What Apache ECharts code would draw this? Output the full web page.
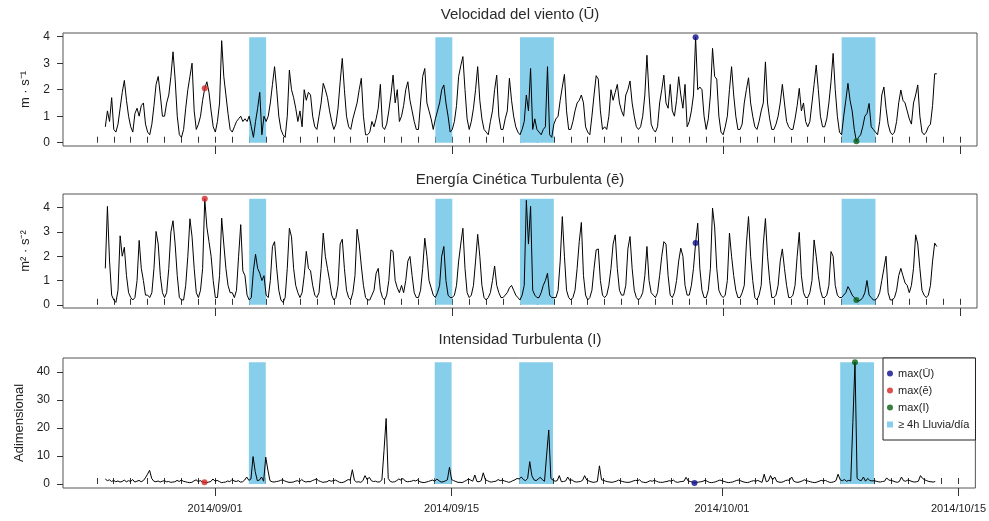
<!DOCTYPE html>
<html>
<head>
<meta charset="utf-8">
<script src="https://cdn.jsdelivr.net/npm/echarts@6/dist/echarts.min.js"></script>
<style>
  html, body { margin: 0; padding: 0; background: #fff; }
  #chart { width: 989px; height: 521px; }
</style>
</head>
<body>
<div id="chart"></div>
<script>
// Sampling: 3-hourly values, first sample 2014-08-25 12:00 (UTC)
const SERIES_START = Date.UTC(2014, 7, 25, 12);
const STEP_HOURS = 3;

// Mean wind speed (m/s); one row per day, slots 00,03,06,09,12,15,18,21 h
const windSpeed = [
  [0.6, 1.2, 0.8, 1.7],                              // 08-25 (from 12 h)
  [0.5, 0.4, 0.7, 1.3, 1.9, 2.35, 1.6, 1.0],         // 08-26
  [0.6, 0.4, 1.1, 1.3, 1.0, 1.4, 1.5, 0.7],          // 08-27
  [0.4, 0.3, 0.7, 1.4, 2.2, 2.5, 1.8, 1.0],          // 08-28
  [1.0, 1.5, 1.8, 2.5, 3.43, 2.4, 1.0, 0.3],         // 08-29
  [0.2, 0.5, 1.3, 2.0, 2.5, 3.0, 1.2, 0.5],          // 08-30
  [0.7, 1.0, 1.6, 2.05, 2.3, 1.9, 1.2, 0.6],         // 08-31
  [0.4, 0.8, 1.5, 3.85, 2.5, 1.8, 1.1, 0.5],         // 09-01
  [0.4, 0.6, 0.8, 0.9, 1.0, 0.8, 0.9, 0.8],          // 09-02
  [1.0, 0.6, 0.2, 0.8, 1.3, 1.9, 0.3, 1.0],          // 09-03
  [0.8, 1.0, 1.5, 2.2, 2.87, 2.0, 1.0, 0.5],         // 09-04
  [0.3, 0.2, 1.0, 2.74, 2.0, 1.7, 1.3, 0.8],         // 09-05
  [1.2, 0.6, 2.0, 1.6, 1.9, 1.8, 1.0, 0.6],          // 09-06
  [0.5, 1.0, 1.5, 2.24, 2.0, 1.7, 1.2, 0.8],         // 09-07
  [0.5, 0.7, 1.3, 2.3, 3.18, 2.0, 1.0, 0.6],         // 09-08
  [0.5, 0.9, 1.2, 1.5, 2.0, 2.43, 1.0, 0.3],         // 09-09
  [0.3, 0.4, 0.8, 0.6, 0.9, 1.3, 2.2, 0.6],          // 09-10
  [0.5, 0.7, 1.2, 1.8, 2.55, 1.5, 2.0, 0.8],         // 09-11
  [1.0, 1.4, 2.0, 2.3, 1.6, 1.2, 0.8, 0.5],          // 09-12
  [0.5, 1.5, 2.5, 2.8, 1.5, 1.2, 0.9, 0.5],          // 09-13
  [0.9, 1.2, 1.5, 2.0, 2.18, 1.5, 1.0, 0.4],         // 09-14
  [0.5, 0.8, 1.4, 2.5, 2.9, 3.25, 2.0, 0.9],         // 09-15
  [0.5, 0.8, 1.3, 2.0, 2.87, 1.6, 0.9, 0.5],         // 09-16
  [0.4, 0.3, 0.8, 1.2, 2.0, 2.55, 1.0, 0.5],         // 09-17
  [0.5, 0.9, 1.2, 2.43, 1.6, 1.0, 0.6, 0.4],         // 09-18
  [0.3, 0.5, 0.8, 1.8, 1.2, 2.8, 0.5, 0.9],          // 09-19
  [0.5, 0.4, 0.3, 0.5, 0.6, 2.87, 0.3, 0.2],         // 09-20
  [0.7, 0.9, 1.0, 1.6, 2.1, 2.58, 1.2, 0.5],         // 09-21
  [0.5, 0.8, 1.2, 1.5, 1.6, 1.8, 1.5, 0.6],          // 09-22
  [0.4, 0.3, 1.0, 1.8, 2.53, 2.4, 1.2, 0.5],         // 09-23
  [0.6, 0.5, 1.0, 2.0, 1.6, 1.9, 2.2, 1.5],          // 09-24
  [1.2, 1.0, 1.8, 2.0, 2.33, 1.5, 1.0, 0.6],         // 09-25
  [0.5, 0.6, 1.0, 1.8, 3.3, 1.8, 0.7, 0.5],          // 09-26
  [0.4, 0.6, 1.5, 2.0, 2.55, 1.5, 1.3, 2.2],         // 09-27
  [1.2, 1.0, 1.6, 2.49, 1.8, 1.3, 2.2, 0.6],         // 09-28
  [0.8, 1.2, 1.8, 3.98, 2.0, 2.1, 2.0, 1.0],         // 09-29
  [0.5, 0.9, 1.8, 3.56, 2.5, 2.4, 1.0, 0.4],         // 09-30
  [0.3, 0.6, 1.0, 2.0, 2.87, 1.8, 1.0, 0.5],         // 10-01
  [0.5, 0.7, 1.5, 2.0, 2.45, 1.5, 1.0, 0.6],         // 10-02
  [0.5, 0.8, 1.2, 1.5, 3.05, 1.5, 0.9, 0.5],         // 10-03
  [0.5, 0.7, 1.0, 1.5, 2.2, 1.5, 0.8, 0.6],          // 10-04
  [0.5, 0.5, 0.9, 1.4, 2.05, 1.2, 1.5, 0.8],         // 10-05
  [0.6, 0.8, 1.5, 2.2, 2.93, 2.0, 1.0, 0.6],         // 10-06
  [0.6, 0.9, 1.5, 2.3, 3.37, 2.0, 1.0, 0.4],         // 10-07
  [0.3, 1.0, 1.6, 2.24, 1.6, 1.2, 0.5, 0.05],        // 10-08
  [0.2, 0.3, 0.6, 1.0, 1.1, 1.48, 0.6, 0.5],         // 10-09
  [0.4, 0.3, 0.8, 1.8, 2.1, 1.3, 0.7, 0.4],          // 10-10
  [0.3, 0.4, 0.8, 1.5, 1.99, 1.6, 1.5, 1.2],         // 10-11
  [0.9, 0.7, 1.5, 1.8, 2.18, 1.0, 0.4, 0.3],         // 10-12
  [0.4, 0.6, 0.7, 1.4, 2.6, 2.6]                     // 10-13 (to 15 h)
];

// Turbulent kinetic energy (m2/s2), same sampling
const tke = [
  [1.5, 4.05, 1.8, 0.4],
  [0.2, 0.1, 0.6, 2.84, 2.0, 2.37, 1.2, 0.5],
  [0.3, 0.2, 0.3, 1.0, 2.65, 1.5, 1.0, 0.4],
  [0.4, 0.3, 0.5, 1.5, 3.02, 2.5, 1.2, 0.5],
  [0.3, 0.5, 1.5, 3.0, 3.46, 2.5, 1.2, 0.3],
  [0.2, 0.2, 0.8, 2.0, 3.54, 2.8, 1.5, 0.5],
  [0.3, 0.6, 1.5, 4.36, 3.2, 2.6, 2.0, 1.0],
  [0.3, 0.3, 1.2, 3.57, 2.5, 1.5, 0.8, 0.5],
  [0.5, 0.3, 0.6, 2.0, 3.3, 1.4, 1.2, 0.4],
  [0.2, 0.3, 1.4, 2.08, 1.5, 1.3, 1.0, 1.2],
  [0.4, 0.3, 1.0, 2.4, 2.6, 1.5, 0.6, 0.2],
  [0.1, 0.3, 1.5, 3.15, 2.8, 1.5, 0.8, 0.5],
  [0.3, 0.5, 1.2, 2.2, 1.5, 1.4, 0.8, 0.4],
  [0.3, 0.5, 1.5, 2.95, 2.0, 1.5, 1.0, 0.4],
  [0.2, 0.3, 0.8, 2.5, 2.7, 1.5, 0.6, 0.3],
  [0.2, 0.5, 1.2, 3.11, 2.5, 1.6, 0.8, 0.3],
  [0.2, 0.2, 0.4, 0.6, 1.3, 1.5, 0.6, 0.3],
  [0.2, 0.4, 1.0, 2.26, 2.2, 1.0, 0.7, 0.5],
  [0.8, 0.5, 1.0, 1.8, 1.99, 1.2, 0.5, 0.3],
  [0.3, 0.6, 1.5, 2.74, 2.0, 1.0, 0.7, 0.4],
  [0.3, 0.5, 0.8, 2.0, 2.4, 1.0, 0.4, 0.3],
  [0.3, 0.4, 0.8, 1.8, 2.5, 3.15, 1.5, 0.5],
  [0.3, 0.4, 0.8, 1.8, 2.9, 2.0, 0.8, 0.3],
  [0.2, 0.3, 0.5, 1.0, 1.6, 0.8, 0.5, 0.3],
  [0.3, 0.4, 0.5, 0.7, 0.8, 0.6, 0.4, 0.3],
  [0.2, 0.4, 0.8, 4.3, 2.5, 4.05, 0.6, 0.4],
  [0.3, 0.3, 0.5, 0.8, 1.0, 1.3, 0.4, 0.3],
  [0.3, 0.3, 0.6, 1.8, 3.63, 2.0, 0.6, 0.3],
  [0.2, 0.3, 0.6, 1.5, 2.6, 3.39, 1.2, 0.4],
  [0.2, 0.3, 0.6, 1.5, 2.26, 2.3, 1.0, 0.4],
  [0.3, 0.4, 0.8, 1.5, 2.5, 2.88, 1.5, 0.6],
  [0.4, 0.4, 0.8, 2.3, 2.81, 1.5, 0.6, 0.3],
  [0.2, 0.3, 0.5, 1.2, 2.4, 1.0, 0.5, 0.4],
  [0.3, 0.5, 1.2, 2.0, 2.6, 2.5, 1.2, 0.4],
  [0.3, 0.5, 1.0, 1.8, 2.33, 2.0, 0.8, 0.4],
  [0.4, 0.8, 1.5, 2.54, 3.36, 1.5, 0.6, 0.3],
  [0.3, 0.6, 1.5, 3.98, 3.2, 1.5, 0.6, 0.4],
  [0.3, 0.4, 1.0, 2.95, 2.0, 1.2, 0.6, 0.3],
  [0.3, 0.5, 0.8, 2.5, 3.63, 2.0, 1.0, 0.3],
  [0.2, 0.4, 0.8, 2.5, 3.55, 2.0, 1.0, 0.3],
  [0.3, 0.4, 0.8, 1.8, 2.3, 1.5, 0.8, 0.3],
  [0.3, 0.4, 0.8, 2.0, 2.98, 1.2, 0.5, 0.3],
  [0.3, 0.5, 1.0, 2.67, 2.0, 1.2, 0.6, 0.3],
  [0.3, 0.4, 0.8, 2.19, 2.0, 0.8, 0.4, 0.3],
  [0.3, 0.4, 0.5, 0.75, 0.6, 0.4, 0.3, 0.2],
  [0.15, 0.2, 0.3, 0.5, 1.0, 0.4, 0.3, 0.2],
  [0.2, 0.3, 0.5, 1.0, 1.5, 2.0, 0.5, 0.2],
  [0.2, 0.3, 0.6, 1.2, 1.5, 1.2, 0.9, 0.8],
  [0.5, 0.8, 1.5, 2.88, 2.5, 1.5, 0.6, 0.4],
  [0.3, 0.4, 0.8, 1.8, 2.54, 2.4]
];

// Turbulence intensity (dimensionless), same sampling
const turbIntensity = [
  [1.8, 1.2, 1.5, 0.9],
  [1.3, 0.8, 1.1, 0.7, 0.9, 1.4, 0.8, 1.2],
  [0.9, 1.6, 0.7, 1.0, 1.3, 0.8, 1.2, 2.2],
  [3.5, 4.9, 2.0, 1.0, 0.8, 1.1, 0.7, 1.0],
  [1.2, 0.8, 0.9, 0.6, 0.7, 0.8, 1.3, 0.9],
  [1.4, 1.0, 0.8, 0.6, 0.5, 0.6, 1.1, 1.5],
  [0.9, 1.2, 0.8, 0.6, 0.5, 0.7, 0.9, 1.8],
  [1.0, 1.3, 0.9, 0.5, 0.6, 0.7, 1.1, 0.8],
  [1.6, 1.1, 0.9, 1.2, 0.7, 0.8, 1.4, 2.5],
  [1.3, 1.8, 9.8, 4.5, 1.2, 1.4, 2.5, 1.0],
  [9.6, 5.0, 1.2, 0.8, 0.7, 0.9, 1.0, 1.3],
  [1.5, 1.1, 0.8, 0.6, 0.6, 0.7, 1.0, 1.2],
  [0.8, 1.6, 1.0, 0.7, 0.9, 0.8, 1.2, 1.5],
  [1.8, 1.2, 0.9, 0.6, 0.7, 0.8, 1.3, 1.0],
  [1.2, 1.4, 1.0, 0.6, 0.5, 0.7, 1.1, 1.6],
  [1.4, 5.1, 1.3, 0.7, 0.8, 0.6, 1.2, 3.0],
  [1.6, 2.4, 1.2, 0.9, 1.0, 0.7, 0.8, 1.5],
  [12.0, 23.4, 2.0, 0.9, 0.7, 0.8, 1.2, 1.8],
  [1.4, 2.0, 1.1, 0.8, 0.9, 1.0, 1.3, 1.1],
  [1.5, 0.8, 0.6, 0.5, 0.7, 0.9, 1.2, 1.4],
  [1.0, 1.8, 1.2, 0.7, 0.8, 1.1, 1.5, 6.0],
  [1.6, 1.2, 0.9, 0.6, 0.6, 0.5, 0.9, 1.3],
  [1.8, 1.4, 1.0, 3.2, 0.9, 0.8, 1.2, 4.0],
  [1.5, 1.2, 0.8, 0.7, 0.9, 1.0, 1.6, 1.2],
  [1.4, 1.1, 0.9, 0.6, 0.8, 1.2, 1.5, 2.0],
  [1.8, 2.5, 1.6, 1.2, 2.0, 8.0, 3.0, 1.5],
  [1.2, 1.8, 2.4, 1.5, 1.0, 10.4, 19.3, 2.0],
  [1.4, 1.0, 1.2, 3.0, 0.8, 0.9, 1.1, 2.5],
  [1.2, 1.5, 0.9, 0.7, 0.8, 0.9, 1.3, 3.0],
  [1.4, 1.1, 0.8, 0.6, 0.7, 0.9, 6.5, 1.5],
  [1.3, 1.0, 0.8, 0.7, 0.6, 0.8, 1.0, 1.4],
  [1.1, 0.9, 0.7, 0.6, 0.6, 0.8, 1.1, 1.3],
  [1.2, 1.5, 0.8, 0.6, 0.5, 0.8, 1.2, 1.0],
  [1.3, 1.0, 0.7, 0.6, 0.6, 0.8, 0.9, 1.2],
  [1.0, 1.4, 0.8, 0.6, 0.8, 0.9, 1.0, 2.4],
  [1.1, 0.9, 0.7, 0.35, 0.6, 0.7, 0.8, 1.0],
  [1.3, 1.0, 0.6, 0.5, 0.6, 0.8, 1.1, 1.4],
  [1.2, 0.9, 0.7, 0.5, 0.6, 0.7, 1.0, 1.3],
  [1.4, 1.1, 0.8, 0.6, 0.5, 0.7, 1.0, 1.2],
  [1.0, 1.3, 0.9, 0.6, 3.5, 0.8, 1.1, 3.0],
  [1.5, 2.5, 0.9, 0.7, 0.6, 0.8, 1.2, 1.4],
  [1.3, 2.5, 1.0, 0.7, 0.6, 0.8, 1.1, 1.5],
  [1.2, 1.0, 0.8, 0.6, 0.5, 0.7, 1.0, 1.3],
  [1.1, 1.3, 0.9, 0.6, 0.6, 0.8, 1.2, 3.5],
  [1.5, 1.2, 1.6, 1.0, 1.3, 1.1, 22.0, 43.5],
  [2.0, 1.4, 1.2, 2.5, 1.0, 2.0, 1.3, 1.1],
  [1.2, 1.0, 0.8, 0.7, 0.9, 1.0, 2.2, 1.4],
  [1.3, 1.1, 0.8, 0.6, 0.9, 2.5, 1.2, 1.0],
  [1.4, 1.2, 0.9, 0.7, 0.8, 1.0, 3.0, 2.0],
  [1.5, 1.2, 0.9, 0.8, 0.7, 0.9]
];

// Days with at least 4 h of rain: [start, end) in whole days
const rainPeriods = [
  ['2014-09-03', '2014-09-04'],
  ['2014-09-14', '2014-09-15'],
  ['2014-09-19', '2014-09-21'],
  ['2014-10-08', '2014-10-10']
];

const majorDates = ['2014-09-01', '2014-09-15', '2014-10-01', '2014-10-15'];
const panelTitles = ['Velocidad del viento (Ū)', 'Energía Cinética Turbulenta (ē)', 'Intensidad Turbulenta (I)'];
const yNames = ['m · s⁻¹', 'm² · s⁻²', 'Adimensional'];
const yTickValues = [[0, 1, 2, 3, 4], [0, 1, 2, 3, 4], [0, 10, 20, 30, 40]];
const legendLabels = ['max(Ū)', 'max(ē)', 'max(I)', '≥ 4h Lluvia/día'];

// ---- styling / layout ----
const FONT = '"Liberation Sans", Arial, sans-serif';
const MARKER_COLORS = ['#0b0b8a', '#d42424', '#0a5e14'];
const RAIN_COLOR = '#87CEEB';
const AXIS_COLOR = '#333';
const grids = [
  { left: 63, width: 914, top: 33, height: 113 },
  { left: 63, width: 914, top: 194, height: 114 },
  { left: 63, width: 914, top: 358, height: 130 }
];
const yRanges = [[-0.125, 4.14], [-0.13, 4.56], [-1.42, 45]];
const yNameGaps = [31, 31, 34];
const titleY = [15, 180, 340];

const DAY_MS = 86400000;
const utc = s => { const [y, m, d] = s.split('-').map(Number); return Date.UTC(y, m - 1, d); };
const X_MIN = utc('2014-08-23');
const X_MAX = utc('2014-10-16');

const dailyTicks = [];
for (let t = utc('2014-08-25'); t <= utc('2014-10-15'); t += DAY_MS) dailyTicks.push(t);
const majorTicks = majorDates.map(utc);
const pad2 = n => String(n).padStart(2, '0');
const fmtDate = v => { const d = new Date(v); return d.getUTCFullYear() + '/' + pad2(d.getUTCMonth() + 1) + '/' + pad2(d.getUTCDate()); };

const toPairs = rows => rows.flat().map((v, i) => [SERIES_START + i * STEP_HOURS * 3600000, v]);
const panelData = [windSpeed, tke, turbIntensity].map(toPairs);
const argmax = arr => arr.reduce((best, p, i) => (p[1] > arr[best][1] ? i : best), 0);
const maxIndex = panelData.map(argmax);

const xAxes = [], yAxes = [], series = [];
grids.forEach((g, gi) => {
  // daily ticks, pointing inward
  xAxes.push({
    gridIndex: gi, type: 'value', min: X_MIN, max: X_MAX, position: 'bottom',
    axisLine: { show: false }, splitLine: { show: false },
    axisLabel: { show: false },
    axisTick: { show: true, inside: true, length: 6, customValues: dailyTicks, lineStyle: { color: AXIS_COLOR, width: 1 } }
  });
  // major date ticks, pointing outward, labelled on the bottom panel
  xAxes.push({
    gridIndex: gi, type: 'value', min: X_MIN, max: X_MAX, position: 'bottom',
    axisLine: { show: false }, splitLine: { show: false },
    axisTick: { show: true, inside: false, length: 8, customValues: majorTicks, lineStyle: { color: AXIS_COLOR, width: 1 } },
    axisLabel: { show: gi === 2, customValues: majorTicks, formatter: fmtDate, margin: 15, fontSize: 11, color: '#222', fontFamily: FONT }
  });
  yAxes.push({
    gridIndex: gi, type: 'value', min: yRanges[gi][0], max: yRanges[gi][1],
    axisLine: { show: false }, splitLine: { show: false },
    axisTick: { show: true, length: 6, customValues: yTickValues[gi], lineStyle: { color: AXIS_COLOR } },
    axisLabel: { customValues: yTickValues[gi], fontSize: 12, color: '#222', margin: 13, fontFamily: FONT },
    name: yNames[gi], nameLocation: 'middle', nameRotate: 90, nameGap: yNameGaps[gi],
    nameTextStyle: { fontSize: 13, color: '#222', fontFamily: FONT }
  });

  const data = panelData[gi];
  const peak = data[maxIndex[gi]][1];

  series.push({
    type: 'custom', name: legendLabels[3], xAxisIndex: gi * 2, yAxisIndex: gi,
    silent: true, z: 1, itemStyle: { color: RAIN_COLOR },
    data: rainPeriods.map(([a, b]) => [utc(a), utc(b), peak]),
    encode: { x: [0, 1], y: 2 },
    renderItem: (params, api) => {
      const p0 = api.coord([api.value(0), api.value(2)]);
      const p1 = api.coord([api.value(1), 0]);
      return { type: 'rect', shape: { x: p0[0], y: p0[1], width: p1[0] - p0[0], height: p1[1] - p0[1] }, style: { fill: RAIN_COLOR } };
    }
  });

  series.push({
    type: 'line', xAxisIndex: gi * 2, yAxisIndex: gi, data,
    showSymbol: false, silent: true, z: 3,
    lineStyle: { color: '#000', width: 1 }
  });

  // max markers: each series' maximum, shown at the same instant in every panel
  maxIndex.forEach((idx, k) => {
    series.push({
      type: 'scatter', name: legendLabels[k], xAxisIndex: gi * 2, yAxisIndex: gi,
      data: [data[idx]], symbolSize: 6, z: 5,
      itemStyle: { color: MARKER_COLORS[k] }
    });
  });
});

const option = {
  animation: false,
  textStyle: { fontFamily: FONT },
  grid: grids.map(g => Object.assign({ show: true, borderColor: '#555', borderWidth: 1, backgroundColor: 'transparent' }, g)),
  xAxis: xAxes,
  yAxis: yAxes,
  legend: {
    orient: 'vertical', left: 883, top: 358,
    padding: [9, 6, 9, 4], itemGap: 4, itemWidth: 6, itemHeight: 6,
    backgroundColor: '#fff', borderColor: '#222', borderWidth: 1, borderRadius: 0,
    textStyle: { fontSize: 11, color: '#222', lineHeight: 13, fontFamily: FONT },
    data: [
      { name: legendLabels[0], icon: 'circle' },
      { name: legendLabels[1], icon: 'circle' },
      { name: legendLabels[2], icon: 'circle' },
      { name: legendLabels[3], icon: 'rect' }
    ]
  },
  graphic: panelTitles.map((t, i) => ({
    type: 'text', x: 520, y: titleY[i],
    style: { text: t, fontSize: 15, fill: '#2a2a2a', align: 'center', verticalAlign: 'middle', fontFamily: FONT }
  })),
  series
};

const chart = echarts.init(document.getElementById('chart'), null, { renderer: 'canvas' });
chart.setOption(option);
</script>
</body>
</html>
